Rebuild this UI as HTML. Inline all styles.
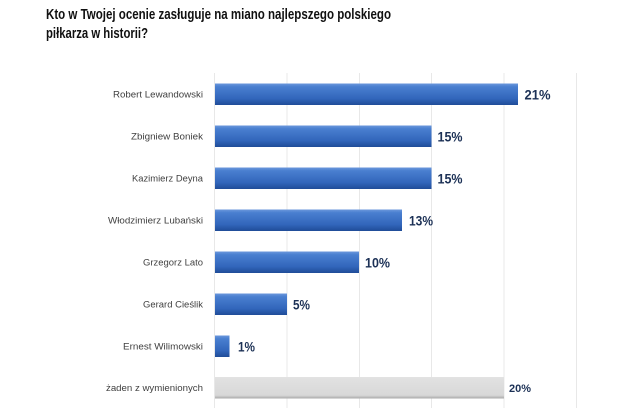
<!DOCTYPE html>
<html>
<head>
<meta charset="utf-8">
<style>
html,body{margin:0;padding:0;background:#fff;}
svg{display:block;}
text{font-family:"Liberation Sans",Arial,sans-serif;}
</style>
</head>
<body>
<svg width="634" height="420" viewBox="0 0 634 420" xmlns="http://www.w3.org/2000/svg">
<defs>
<linearGradient id="blue" x1="0" y1="0" x2="0" y2="1">
<stop offset="0" stop-color="#6b98dc"/>
<stop offset="0.15" stop-color="#4a7fd0"/>
<stop offset="0.7" stop-color="#3266bb"/>
<stop offset="1" stop-color="#1f4c98"/>
</linearGradient>
<linearGradient id="gray" x1="0" y1="0" x2="0" y2="1">
<stop offset="0" stop-color="#e2e2e2"/>
<stop offset="0.85" stop-color="#d8d8d8"/>
<stop offset="1" stop-color="#a8a8a8"/>
</linearGradient>
</defs>

<!-- Title -->
<text x="46" y="19" font-size="14.5" font-weight="bold" fill="#111" textLength="345" lengthAdjust="spacingAndGlyphs">Kto w Twojej ocenie zasługuje na miano najlepszego polskiego</text>
<text x="46" y="38" font-size="14.5" font-weight="bold" fill="#111" textLength="102" lengthAdjust="spacingAndGlyphs">piłkarza w historii?</text>

<!-- Gridlines -->
<g stroke="#e8e8e8" stroke-width="1">
<line x1="214.5" y1="73" x2="214.5" y2="408"/>
<line x1="287" y1="73" x2="287" y2="408"/>
<line x1="359.5" y1="73" x2="359.5" y2="408"/>
<line x1="431.5" y1="73" x2="431.5" y2="408"/>
<line x1="504" y1="73" x2="504" y2="408"/>
<line x1="576.5" y1="73" x2="576.5" y2="408"/>
</g>

<!-- Bars -->
<g>
<rect x="215" y="83.5" width="303" height="21.5" fill="url(#blue)"/>
<rect x="215" y="125.5" width="216.5" height="21.5" fill="url(#blue)"/>
<rect x="215" y="167.5" width="216.5" height="21.5" fill="url(#blue)"/>
<rect x="215" y="209.5" width="187" height="21.5" fill="url(#blue)"/>
<rect x="215" y="251.5" width="144" height="21.5" fill="url(#blue)"/>
<rect x="215" y="293.5" width="72" height="21.5" fill="url(#blue)"/>
<rect x="215" y="335.5" width="14.5" height="21.5" fill="url(#blue)"/>
<rect x="215" y="377" width="289" height="21.5" fill="url(#gray)"/>
</g>

<!-- Category labels -->
<g font-size="9.6" fill="#404040" text-anchor="end">
<text x="203" y="97.5" textLength="90" lengthAdjust="spacingAndGlyphs">Robert Lewandowski</text>
<text x="203" y="139.5" textLength="72" lengthAdjust="spacingAndGlyphs">Zbigniew Boniek</text>
<text x="203" y="181.5" textLength="71" lengthAdjust="spacingAndGlyphs">Kazimierz Deyna</text>
<text x="203" y="223.5" textLength="95" lengthAdjust="spacingAndGlyphs">Włodzimierz Lubański</text>
<text x="203" y="265.5" textLength="60" lengthAdjust="spacingAndGlyphs">Grzegorz Lato</text>
<text x="203" y="307.5" textLength="60" lengthAdjust="spacingAndGlyphs">Gerard Cieślik</text>
<text x="203" y="349.5" textLength="80" lengthAdjust="spacingAndGlyphs">Ernest Wilimowski</text>
<text x="203" y="391" textLength="97" lengthAdjust="spacingAndGlyphs">żaden z wymienionych</text>
</g>

<!-- Value labels -->
<g font-size="13.5" font-weight="bold" fill="#1c3156">
<text x="524.5" y="99.5" textLength="26" lengthAdjust="spacingAndGlyphs">21%</text>
<text x="437.5" y="141.5" textLength="25" lengthAdjust="spacingAndGlyphs">15%</text>
<text x="437.5" y="183.5" textLength="25" lengthAdjust="spacingAndGlyphs">15%</text>
<text x="409" y="225.5" textLength="24" lengthAdjust="spacingAndGlyphs">13%</text>
<text x="365" y="267.5" textLength="25" lengthAdjust="spacingAndGlyphs">10%</text>
<text x="293" y="309.5" textLength="17" lengthAdjust="spacingAndGlyphs">5%</text>
<text x="238" y="351.5" textLength="17" lengthAdjust="spacingAndGlyphs">1%</text>
</g>
<text x="509" y="392" font-size="11" font-weight="bold" fill="#1c3156" textLength="22" lengthAdjust="spacingAndGlyphs">20%</text>
</svg>
</body>
</html>
